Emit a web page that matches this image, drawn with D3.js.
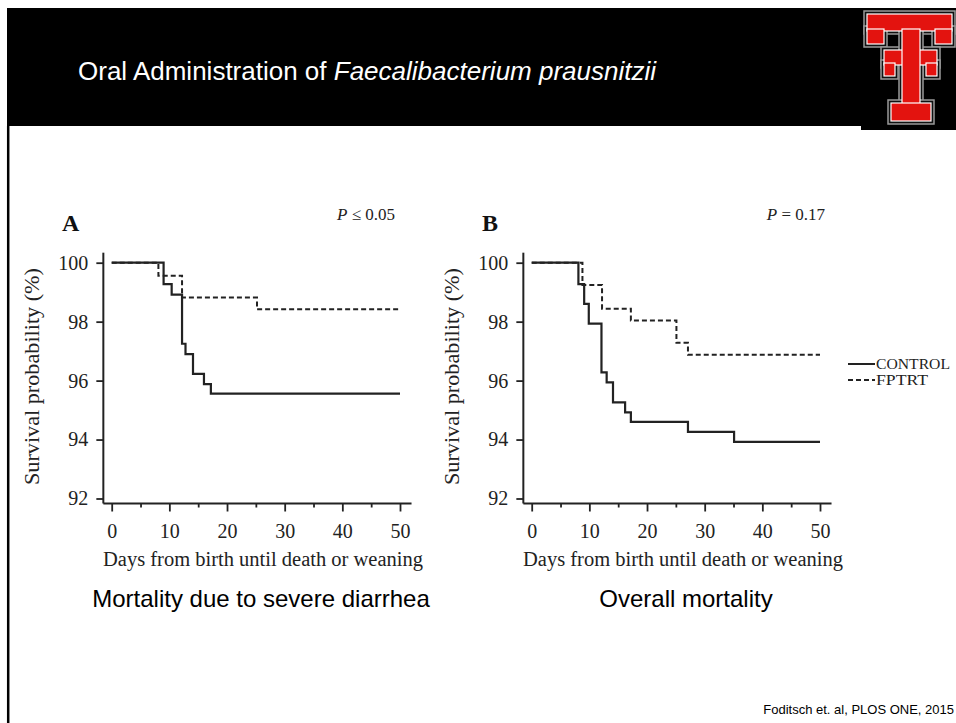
<!DOCTYPE html>
<meta charset="utf-8">
<style>
body { margin: 0; background: #fff; }
svg { display: block; }
.serif { font-family: "Liberation Serif", "Times New Roman", serif; }
.sans { font-family: "Liberation Sans", Arial, sans-serif; }
.axis text { font-family: "Liberation Serif", "Times New Roman", serif; font-size: 20px; fill: #222; }
.axis line { stroke: #222; stroke-width: 1.8px; }
.axis path { display: none; }
</style>
<svg width="956" height="723"></svg>
<script src="https://d3js.org/d3.v7.min.js"></script>
<script>
// Panel A: mortality due to severe diarrhea (Kaplan-Meier steps)
var daysA_control = [0, 9, 10.4, 12.2, 12.8, 14.1, 16, 17.2, 50];
var survA_control = [100, 99.27, 98.92, 97.25, 96.9, 96.23, 95.88, 95.56, 95.56];
var daysA_fptrt = [0, 8.1, 12.2, 25.2, 50];
var survA_fptrt = [100, 99.56, 98.82, 98.42, 98.42];

// Panel B: overall mortality
var daysB_control = [0, 8.1, 9.1, 9.9, 12.1, 13, 14.1, 16.2, 17.2, 27.1, 35.1, 50];
var survB_control = [100, 99.27, 98.6, 97.93, 96.28, 95.94, 95.26, 94.92, 94.6, 94.26, 93.92, 93.92];
var daysB_fptrt = [0, 8.8, 12.2, 17.2, 25.1, 27.1, 50];
var survB_fptrt = [100, 99.24, 98.44, 98.04, 97.28, 96.88, 96.88];

var dayTicks = [0, 10, 20, 30, 40, 50];
var dayMinor = [5, 15, 25, 35, 45];
var survTicks = [92, 94, 96, 98, 100];
var seriesNames = ["CONTROL", "FPTRT"];

var svg = d3.select("svg");

// slide background + header band
svg.append("rect").attr("width", 956).attr("height", 723).attr("fill", "#fff");
svg.append("rect").attr("x", 7).attr("y", 8).attr("width", 949).attr("height", 118).attr("fill", "#000");
svg.append("line").attr("x1", 8.2).attr("x2", 8.2).attr("y1", 126).attr("y2", 723)
    .attr("stroke", "#000").attr("stroke-width", 2.5);

var title = svg.append("text").attr("class", "sans")
    .attr("x", 78).attr("y", 80).attr("fill", "#fff").style("font-size", "26px");
title.append("tspan").text("Oral Administration of ");
title.append("tspan").style("font-style", "italic").text("Faecalibacterium prausnitzii");

// Double T logo, rough
var logo = svg.append("g");
logo.append("rect").attr("x", 861).attr("y", 8).attr("width", 95).attr("height", 122).attr("fill", "#000");
var parts = [
  [867, 14, 85, 17], [867, 29, 17, 15], [935, 29, 17, 15],
  [884, 50, 53, 15], [884, 63, 11, 13], [926, 63, 11, 13],
  [902, 29, 18, 82], [891, 103, 40, 18]
];
logo.selectAll(".o").data(parts).enter().append("rect")
    .attr("x", function(d) { return d[0] - 3; }).attr("y", function(d) { return d[1] - 3; })
    .attr("width", function(d) { return d[2] + 6; }).attr("height", function(d) { return d[3] + 6; })
    .attr("fill", "#111").attr("stroke", "#999").attr("stroke-width", 1.5);
logo.selectAll(".r").data(parts).enter().append("rect")
    .attr("x", function(d) { return d[0]; }).attr("y", function(d) { return d[1]; })
    .attr("width", function(d) { return d[2]; }).attr("height", function(d) { return d[3]; })
    .attr("fill", "#e3130f").attr("stroke", "#fff").attr("stroke-width", 1.2);

function drawPanel(dx, letter, pLabel, pValue, caption, control, fptrt, legend) {
  var g = svg.append("g");
  var x = d3.scaleLinear().domain([0, 50]).range([111.7 + dx, 400 + dx]);
  var y = d3.scaleLinear().domain([92, 100]).range([498.5, 262.7]);
  var axisY = 503.5;

  // axes
  g.append("g").attr("class", "axis").attr("transform", "translate(0," + axisY + ")")
      .call(d3.axisBottom(x).tickValues(dayTicks).tickSize(8).tickPadding(12));
  g.append("g").attr("class", "axis").attr("transform", "translate(0," + axisY + ")")
      .call(d3.axisBottom(x).tickValues(dayMinor).tickSize(4).tickFormat(""));
  g.append("g").attr("class", "axis").attr("transform", "translate(" + x(-1.45) + ",0)")
      .call(d3.axisLeft(y).tickValues(survTicks).tickSize(7).tickPadding(8));
  g.append("line").attr("x1", x(-1.45)).attr("x2", x(52)).attr("y1", axisY).attr("y2", axisY)
      .attr("stroke", "#222").attr("stroke-width", 2);
  g.append("line").attr("x1", x(-1.45)).attr("x2", x(-1.45)).attr("y1", y(100.34)).attr("y2", axisY)
      .attr("stroke", "#222").attr("stroke-width", 2);

  // axis titles
  g.append("text").attr("class", "serif").attr("x", 263 + dx).attr("y", 566)
      .attr("text-anchor", "middle").style("font-size", "20.5px").attr("fill", "#222")
      .attr("textLength", 320).attr("lengthAdjust", "spacingAndGlyphs")
      .text("Days from birth until death or weaning");
  g.append("text").attr("class", "serif")
      .attr("transform", "translate(" + (31.7 + dx) + ",376.5) rotate(-90)")
      .attr("text-anchor", "middle").attr("dy", "0.35em").style("font-size", "21px").attr("fill", "#222")
      .attr("textLength", 217).attr("lengthAdjust", "spacingAndGlyphs")
      .text("Survival probability (%)");

  g.append("text").attr("class", "serif").attr("x", 62 + dx).attr("y", 231)
      .style("font-size", "24px").style("font-weight", "bold").attr("fill", "#111").text(letter);
  var p = g.append("text").attr("class", "serif").attr("x", pLabel).attr("y", 220)
      .attr("text-anchor", "end").style("font-size", "17px").attr("fill", "#222");
  p.append("tspan").style("font-style", "italic").text("P");
  p.append("tspan").text(pValue);

  // survival curves
  var line = d3.line()
      .x(function(d) { return x(d[0]); })
      .y(function(d) { return y(d[1]); })
      .curve(d3.curveStepAfter);
  g.append("path").datum(d3.zip(fptrt[0], fptrt[1])).attr("d", line)
      .attr("fill", "none").attr("stroke", "#222").attr("stroke-width", 2).attr("stroke-dasharray", "5,3");
  g.append("path").datum(d3.zip(control[0], control[1])).attr("d", line)
      .attr("fill", "none").attr("stroke", "#222").attr("stroke-width", 2.2);

  g.append("text").attr("class", "sans").attr("x", caption[1] + dx).attr("y", 607)
      .attr("text-anchor", "middle").style("font-size", "24px").attr("fill", "#000").text(caption[0]);

  if (legend) {
    var lg = g.append("g");
    seriesNames.forEach(function(name, i) {
      var ly = 364 + i * 16;
      lg.append("line").attr("x1", 848).attr("x2", 875).attr("y1", ly).attr("y2", ly)
          .attr("stroke", "#222").attr("stroke-width", 2)
          .attr("stroke-dasharray", i ? "5,3" : null);
      lg.append("text").attr("class", "serif").attr("x", 876).attr("y", ly + 4.5)
          .style("font-size", "14px").attr("fill", "#222")
          .attr("textLength", i ? 52 : 74).attr("lengthAdjust", "spacingAndGlyphs").text(name);
    });
  }
}

drawPanel(0, "A", 395, " \u2264 0.05", ["Mortality due to severe diarrhea", 261],
    [daysA_control, survA_control], [daysA_fptrt, survA_fptrt], false);
drawPanel(420, "B", 825, " = 0.17", ["Overall mortality", 266],
    [daysB_control, survB_control], [daysB_fptrt, survB_fptrt], true);

svg.append("text").attr("class", "sans").attr("x", 954).attr("y", 714)
    .attr("text-anchor", "end").style("font-size", "13px").attr("fill", "#000")
    .text("Foditsch et. al, PLOS ONE, 2015");
</script>
